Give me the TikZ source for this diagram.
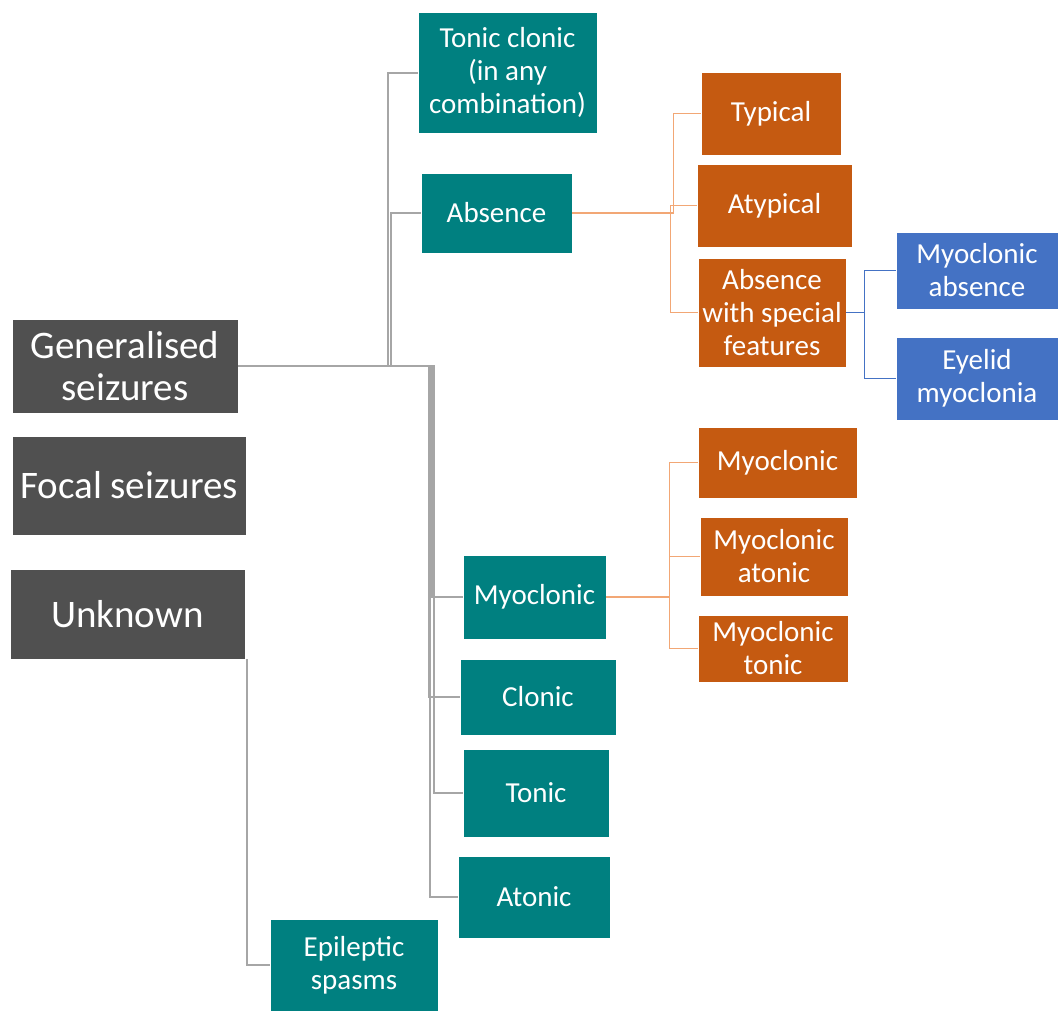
\documentclass[tikz,border=0pt]{standalone}
\usepackage{fontspec}
\setmainfont{Carlito}
\definecolor{teal}{HTML}{008080}
\definecolor{darkbox}{HTML}{505050}
\definecolor{rust}{HTML}{C55A11}
\definecolor{steel}{HTML}{4472C4}
\definecolor{gline}{HTML}{A6A6A6}
\definecolor{oline}{HTML}{F2A775}
\begin{document}
\begin{tikzpicture}[x=1pt,y=-1pt,
  box/.style={rectangle, inner sep=0pt, text=white, align=center, draw=white, line width=0.6pt},
  big/.style={box, fill=darkbox, font=\fontsize{39}{42}\selectfont},
  tealbox/.style={box, fill=teal, font=\fontsize{29}{33}\selectfont},
  rustbox/.style={box, fill=rust, font=\fontsize{29}{33}\selectfont},
  bluebox/.style={box, fill=steel, font=\fontsize{29}{33}\selectfont},
  gconn/.style={draw=gline, line width=2pt},
  oconn/.style={draw=oline, line width=1.6pt},
  bconn/.style={draw=steel, line width=1.6pt}]
\useasboundingbox (0,0) rectangle (1059,1012);

% top-level categories
\node[big, minimum width=226, minimum height=94] (gen) at (125,366) {Generalised\\seizures};
\node[big, minimum width=234, minimum height=99] (focal) at (129,485.5) {Focal seizures};
\node[big, minimum width=235, minimum height=90] (unk) at (127.5,614) {Unknown};

% generalised subtypes
\node[tealbox, minimum width=179, minimum height=121] (tc) at (507.5,72.5) {Tonic clonic\\(in any\\combination)};
\node[tealbox, minimum width=151, minimum height=80] (abs) at (496.5,213) {Absence};
\node[tealbox, minimum width=143, minimum height=84] (myo) at (534.5,597) {Myoclonic};
\node[tealbox, minimum width=156, minimum height=76] (clon) at (538,697) {Clonic};
\node[tealbox, minimum width=146, minimum height=88] (ton) at (536,793) {Tonic};
\node[tealbox, minimum width=152, minimum height=82] (aton) at (534,897) {Atonic};
\node[tealbox, minimum width=168, minimum height=92] (spasm) at (354,965) {Epileptic\\spasms};

% absence subtypes
\node[rustbox, minimum width=140, minimum height=83] (typ) at (771,113.5) {Typical};
\node[rustbox, minimum width=155, minimum height=83] (atyp) at (774.5,205.5) {Atypical};
\node[rustbox, minimum width=148, minimum height=109] (aspec) at (772,312.5) {Absence\\with special\\features};
\node[bluebox, minimum width=162, minimum height=77] (mabs) at (977,270.5) {Myoclonic\\absence};
\node[bluebox, minimum width=162, minimum height=83] (eye) at (977,378.5) {Eyelid\\myoclonia};

% myoclonic subtypes
\node[rustbox, minimum width=159, minimum height=71] (mo1) at (777.5,462.5) {Myoclonic};
\node[rustbox, minimum width=148, minimum height=79] (moat) at (774,556.5) {Myoclonic\\atonic};
\node[rustbox, minimum width=150, minimum height=67] (moto) at (773,648.5) {Myoclonic\\tonic};

% grey tree from generalised seizures
\draw[gconn] (gen.east) -- ++(150,0) |- (tc.west);
\draw[gconn] (gen.east) -- ++(153,0) |- (abs.west);
\draw[gconn] (gen.east) -- ++(194,0) |- (myo.west);
\draw[gconn] (gen.east) -- ++(191,0) |- (clon.west);
\draw[gconn] (gen.east) -- ++(196,0) |- (ton.west);
\draw[gconn] (gen.east) -- ++(192,0) |- (aton.west);
\draw[gconn] ([xshift=2pt]unk.south east) |- (spasm.west);

% orange branches
\draw[oconn] (abs.east) -- ++(101,0) |- (typ.west);
\draw[oconn] (abs.east) -- ++(98,0) |- (atyp.west);
\draw[oconn] (abs.east) -- ++(98,0) |- (aspec.west);
\draw[oconn] (myo.east) -- ++(63,0) |- (mo1.west);
\draw[oconn] (myo.east) -- ++(63,0) |- (moat.west);
\draw[oconn] (myo.east) -- ++(63,0) |- (moto.west);

% blue branches
\draw[bconn] (aspec.east) -- ++(18,0) |- (mabs.west);
\draw[bconn] (aspec.east) -- ++(18,0) |- (eye.west);
\end{tikzpicture}
\end{document}
